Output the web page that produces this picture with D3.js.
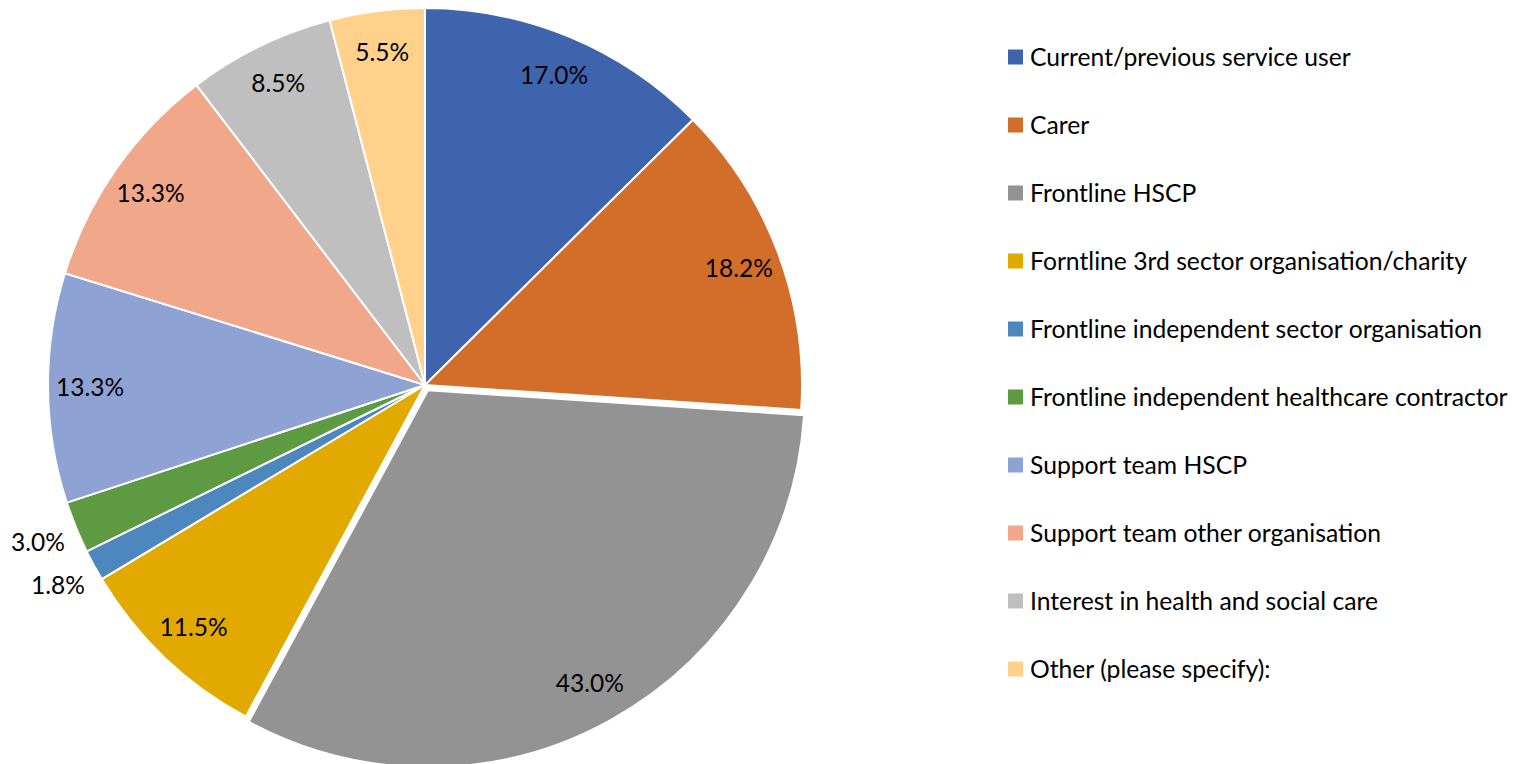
<!DOCTYPE html>
<html><head><meta charset="utf-8">
<script src="https://cdn.jsdelivr.net/npm/d3@7"></script>
<style>body{margin:0;background:#fff;} svg{display:block;} text{font-family:Lato, "Liberation Sans", sans-serif;fill:#000;}</style>
</head><body>
<svg id="chart" width="1519" height="764"></svg>
<script>
const categories = ["Current/previous service user","Carer","Frontline HSCP","Forntline 3rd sector organisation/charity","Frontline independent sector organisation","Frontline independent healthcare contractor","Support team HSCP","Support team other organisation","Interest in health and social care","Other (please specify):"];
const values = [17.0,18.2,43.0,11.5,1.8,3.0,13.3,13.3,8.5,5.5];
const colors = ["#3E64AD","#D36E2A","#939393","#E2AA00","#4D87BE","#5E9A42","#8FA2D4","#F0A78A","#BFBFBF","#FFD18A"];
const exploded = [false,false,true,false,false,false,false,false,false,false];
const outsideLabel = [false,false,false,false,true,true,false,false,false,false];

const svg = d3.select("#chart");
const cx = 425, cy = 385, R = 377;
const data = categories.map((c,i)=>({name:c,value:values[i],color:colors[i],exploded:exploded[i],outside:outsideLabel[i]}));
const pie = d3.pie().sort(null).value(d=>d.value);
const arcs = pie(data);
const arc = d3.arc().innerRadius(0).outerRadius(R);
const labelArc = d3.arc().innerRadius(335).outerRadius(335);
const outArc = d3.arc().innerRadius(418).outerRadius(418);
const g = svg.append("g").attr("transform",`translate(${cx},${cy})`);
g.selectAll("path").data(arcs).join("path")
  .attr("d",arc)
  .attr("fill",d=>d.data.color)
  .attr("stroke","#fff").attr("stroke-width",2).attr("stroke-linejoin","round")
  .attr("transform",d=>{
    if(!d.data.exploded) return null;
    const m=(d.startAngle+d.endAngle)/2, off=6;
    return `translate(${Math.sin(m)*off},${-Math.cos(m)*off})`;
  });
g.selectAll("text.lbl").data(arcs).join("text").attr("class","lbl")
  .attr("transform",d=>{
    const p=(d.data.outside?outArc:labelArc).centroid(d);
    let ox=0,oy=0;
    if(d.data.exploded){const m=(d.startAngle+d.endAngle)/2;ox=Math.sin(m)*6;oy=-Math.cos(m)*6;}
    return `translate(${p[0]+ox},${p[1]+oy})`;
  })
  .attr("text-anchor","middle").attr("dy","0.35em")
  .style("font-size","24.5px")
  .text(d=>d3.format(".1f")(d.data.value)+"%");

const lg = svg.append("g");
const ly = d3.scalePoint().domain(categories).range([57,669]);
const items = lg.selectAll("g").data(data).join("g").attr("transform",d=>`translate(1008,${ly(d.name)})`);
items.append("rect").attr("x",0).attr("y",-7.5).attr("width",15).attr("height",15).attr("fill",d=>d.color);
items.append("text").attr("x",22).attr("dy","0.35em").style("font-size","24.7px").text(d=>d.name);
</script>
</body></html>
